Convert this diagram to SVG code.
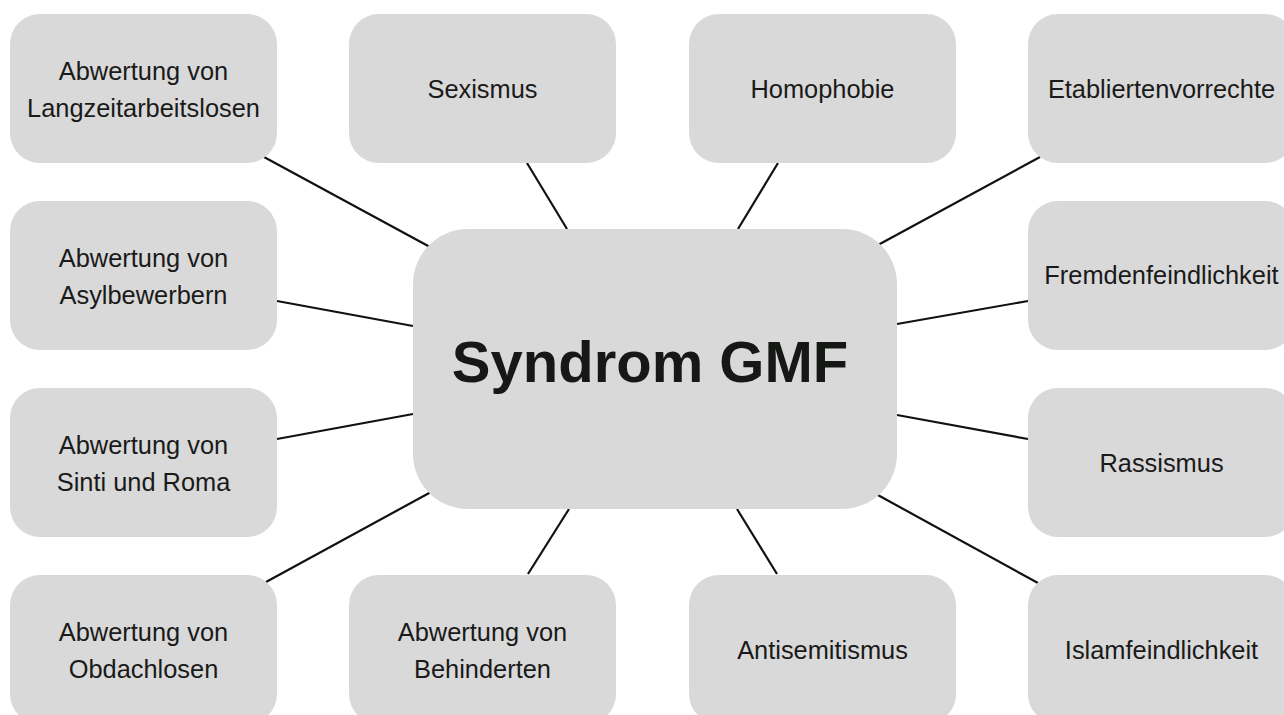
<svg xmlns="http://www.w3.org/2000/svg" width="1284" height="715" viewBox="0 0 1284 715">
<style>
.box{fill:#d9d9d9;}
.t{font-family:"Liberation Sans",Arial,Helvetica,sans-serif;font-size:25.4px;fill:#1a1a1a;text-anchor:middle;}
.c{font-family:"Liberation Sans",Arial,Helvetica,sans-serif;font-size:58px;font-weight:bold;fill:#161816;text-anchor:middle;}
.ln{stroke:#111;stroke-width:2.2;fill:none;}
</style>
<rect width="1284" height="715" fill="#fff"/>
<g id="connectors">
<line class="ln" x1="264" y1="157" x2="430" y2="247"/>
<line class="ln" x1="527" y1="163" x2="567" y2="229"/>
<line class="ln" x1="778" y1="163" x2="738" y2="229"/>
<line class="ln" x1="1040" y1="157" x2="878" y2="245"/>
<line class="ln" x1="277" y1="301" x2="413" y2="326"/>
<line class="ln" x1="897" y1="324" x2="1028" y2="301"/>
<line class="ln" x1="277" y1="439" x2="413" y2="414"/>
<line class="ln" x1="897" y1="415" x2="1028" y2="439"/>
<line class="ln" x1="266" y1="582" x2="431" y2="492"/>
<line class="ln" x1="528" y1="574" x2="569" y2="509"/>
<line class="ln" x1="777" y1="574" x2="737" y2="509"/>
<line class="ln" x1="1038" y1="583" x2="876" y2="494"/>
</g>
<g id="center"><rect class="box" x="413" y="229" width="484" height="280" rx="55"/><text class="c" x="650" y="382">Syndrom GMF</text></g>
<g id="n1"><rect class="box" x="10" y="14" width="267" height="149" rx="30"/><text class="t" x="143.5" y="80">Abwertung von</text><text class="t" x="143.5" y="117">Langzeitarbeitslosen</text></g>
<g id="n2"><rect class="box" x="349" y="14" width="267" height="149" rx="30"/><text class="t" x="482.5" y="98">Sexismus</text></g>
<g id="n3"><rect class="box" x="689" y="14" width="267" height="149" rx="30"/><text class="t" x="822.5" y="98">Homophobie</text></g>
<g id="n4"><rect class="box" x="1028" y="14" width="267" height="149" rx="30"/><text class="t" x="1161.5" y="98">Etabliertenvorrechte</text></g>
<g id="n5"><rect class="box" x="10" y="201" width="267" height="149" rx="30"/><text class="t" x="143.5" y="267">Abwertung von</text><text class="t" x="143.5" y="304">Asylbewerbern</text></g>
<g id="n6"><rect class="box" x="1028" y="201" width="267" height="149" rx="30"/><text class="t" x="1161.5" y="284">Fremdenfeindlichkeit</text></g>
<g id="n7"><rect class="box" x="10" y="388" width="267" height="149" rx="30"/><text class="t" x="143.5" y="454">Abwertung von</text><text class="t" x="143.5" y="491">Sinti und Roma</text></g>
<g id="n8"><rect class="box" x="1028" y="388" width="267" height="149" rx="30"/><text class="t" x="1161.5" y="472">Rassismus</text></g>
<g id="n9"><rect class="box" x="10" y="575" width="267" height="149" rx="30"/><text class="t" x="143.5" y="641">Abwertung von</text><text class="t" x="143.5" y="678">Obdachlosen</text></g>
<g id="n10"><rect class="box" x="349" y="575" width="267" height="149" rx="30"/><text class="t" x="482.5" y="641">Abwertung von</text><text class="t" x="482.5" y="678">Behinderten</text></g>
<g id="n11"><rect class="box" x="689" y="575" width="267" height="149" rx="30"/><text class="t" x="822.5" y="659">Antisemitismus</text></g>
<g id="n12"><rect class="box" x="1028" y="575" width="267" height="149" rx="30"/><text class="t" x="1161.5" y="659">Islamfeindlichkeit</text></g>
</svg>
